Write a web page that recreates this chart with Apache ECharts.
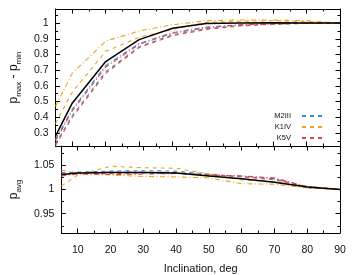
<!DOCTYPE html>
<html><head><meta charset="utf-8">
<script src="https://cdn.jsdelivr.net/npm/echarts@6/dist/echarts.min.js"></script>
<style>html,body{margin:0;padding:0;background:#fff}#c{width:354px;height:275px}</style>
</head><body><div id="c"></div>
<script>
// ---- data ----
var inclination = [5, 10, 20, 30, 40, 50, 60, 70, 80, 90];
var xTickLabels = [10, 20, 30, 40, 50, 60, 70, 80, 90];
var seriesNames = ['M2III', 'K1IV', 'K5V'];

// top panel: p_max - p_min
var topMean      = [0.28, 0.49, 0.755, 0.895, 0.967, 0.998, 1.0, 1.002, 1.0, 1.0];
var topM2IIIdash = [0.23, 0.41, 0.69, 0.85, 0.925, 0.965, 0.985, 0.994, 0.999, 1.0];
var topM2IIIdd   = [0.26, 0.45, 0.73, 0.87, 0.94, 0.975, 0.99, 0.996, 1.0, 1.0];
var topK1IVdash  = [0.36, 0.56, 0.82, 0.91, 0.96, 1.005, 1.012, 1.015, 1.01, 1.0];
var topK1IVdd    = [0.47, 0.68, 0.885, 0.95, 0.99, 1.015, 1.02, 1.02, 1.015, 1.0];
var topK5Vdash   = [0.22, 0.40, 0.68, 0.845, 0.92, 0.96, 0.982, 0.993, 0.998, 1.0];
var topK5Vdd     = [0.25, 0.44, 0.72, 0.865, 0.935, 0.97, 0.988, 0.995, 1.0, 1.0];
var topYTickLabels = [0.3, 0.4, 0.5, 0.6, 0.7, 0.8, 0.9, 1];

// bottom panel: p_avg
var botMean      = [1.031, 1.034, 1.035, 1.035, 1.034, 1.028, 1.022, 1.015, 1.005, 1.0];
var botM2IIIdash = [1.035, 1.036, 1.038, 1.039, 1.038, 1.032, 1.026, 1.02, 1.006, 1.0];
var botM2IIIdd   = [1.03, 1.033, 1.036, 1.036, 1.035, 1.03, 1.028, 1.022, 1.006, 1.0];
var botK1IVdash  = [1.007, 1.03, 1.048, 1.045, 1.044, 1.032, 1.02, 1.016, 1.005, 1.0];
var botK1IVdd    = [1.04, 1.034, 1.03, 1.027, 1.026, 1.024, 1.012, 1.011, 1.003, 1.0];
var botK5Vdash   = [1.032, 1.034, 1.033, 1.034, 1.034, 1.03, 1.027, 1.022, 1.004, 1.0];
var botK5Vdd     = [1.028, 1.032, 1.031, 1.032, 1.033, 1.03, 1.028, 1.024, 1.006, 1.0];
var botYTickLabels = [0.95, 1, 1.05];

// ---- build ----
var FONT = 'Liberation Sans, Arial, sans-serif';
var AX = '#000';
function range(a, b, s) { var r = []; for (var v = a; v <= b + 1e-9; v += s) r.push(Math.round(v * 1000) / 1000); return r; }
var xMajor = xTickLabels.slice();
var xMinor = range(15, 85, 10);

function xAxesFor(g, withLabels) {
  var base = { type: 'value', gridIndex: g, min: 5, max: 90, splitLine: { show: false } };
  function mk(pos, vals, len, line, lab) {
    return Object.assign({}, base, {
      position: pos,
      axisLine: { show: line, onZero: false, lineStyle: { color: AX, width: 1 } },
      axisTick: { show: true, inside: true, length: len, customValues: vals, lineStyle: { color: AX, width: 1 } },
      axisLabel: lab ? { show: true, customValues: xTickLabels, color: '#111', fontSize: 10.5, fontFamily: FONT, margin: 12 } : { show: false }
    });
  }
  var arr = [mk('bottom', xMajor, 4.5, true, withLabels), mk('bottom', xMinor, 2.5, false, false),
             mk('top', xMajor, 4.5, true, false), mk('top', xMinor, 2.5, false, false)];
  if (withLabels) {
    arr[0].name = 'Inclination, deg';
    arr[0].nameLocation = 'middle';
    arr[0].nameGap = 30;
    arr[0].nameTextStyle = { color: '#111', fontSize: 11, fontFamily: FONT };
  }
  return arr;
}
function yAxesFor(g, min, max, major, minor, labels, name, gap) {
  var base = { type: 'value', gridIndex: g, min: min, max: max, splitLine: { show: false } };
  function mk(pos, vals, len, line, lab) {
    return Object.assign({}, base, {
      position: pos,
      axisLine: { show: line, onZero: false, lineStyle: { color: AX, width: 1 } },
      axisTick: { show: true, inside: true, length: len, customValues: vals, lineStyle: { color: AX, width: 1 } },
      axisLabel: lab ? { show: true, customValues: labels, color: '#111', fontSize: 10.5, fontFamily: FONT, margin: 7 } : { show: false }
    });
  }
  var arr = [mk('left', major, 4.5, true, true), mk('left', minor, 2.5, false, false),
             mk('right', major, 4.5, true, false), mk('right', minor, 2.5, false, false)];
  arr[0].name = name;
  arr[0].nameLocation = 'middle';
  arr[0].nameRotate = 90;
  arr[0].nameGap = gap;
  arr[0].nameTextStyle = {
    color: '#111', fontFamily: FONT,
    rich: {
      a: { fontSize: 12, fontFamily: FONT, color: '#111', lineHeight: 18, verticalAlign: 'middle' },
      s: { fontSize: 8, fontFamily: FONT, color: '#111', lineHeight: 18, verticalAlign: 'bottom' }
    }
  };
  return arr;
}

var xAxes = xAxesFor(0, false).concat(xAxesFor(1, true));
var yAxes = yAxesFor(0, 0.217, 1.09, range(0.3, 1.0, 0.1), range(0.25, 1.05, 0.1),
                     topYTickLabels, '{a|p}{s|max}{a| - p}{s|min}', 27)
  .concat(yAxesFor(1, 0.91, 1.09, range(0.95, 1.05, 0.05), range(0.925, 1.075, 0.05),
                   botYTickLabels, '{a|p}{s|avg}', 27));

var COL = { M2III: '#3c8fd6', K1IV: '#eba51e', K5V: '#e8453f' };
var DASH = [4, 4];
var DASHDOT = [5, 2.5, 1, 2.5];
function pts(vals) { return inclination.map(function (x, i) { return [x, vals[i]]; }); }
function ser(name, vals, color, type, panel, width, z) {
  return {
    name: name, type: 'line', xAxisIndex: panel * 4, yAxisIndex: panel * 4,
    data: pts(vals), symbol: 'none', silent: true, animation: false, z: z || 2,
    lineStyle: { color: color, width: width || 1.1, type: type }, itemStyle: { color: color }
  };
}
var series = [
  ser('M2III', topM2IIIdash, COL.M2III, DASH, 0),
  ser('M2III b', topM2IIIdd, COL.M2III, DASHDOT, 0),
  ser('K1IV', topK1IVdash, COL.K1IV, DASH, 0),
  ser('K1IV b', topK1IVdd, COL.K1IV, DASHDOT, 0),
  ser('K5V', topK5Vdash, COL.K5V, DASH, 0),
  ser('K5V b', topK5Vdd, COL.K5V, DASHDOT, 0),
  ser('mean', topMean, '#000', 'solid', 0, 1.5, 5),
  ser('M2III c', botM2IIIdash, COL.M2III, DASH, 1),
  ser('M2III d', botM2IIIdd, COL.M2III, DASHDOT, 1),
  ser('K1IV c', botK1IVdash, COL.K1IV, DASH, 1),
  ser('K1IV d', botK1IVdd, COL.K1IV, DASHDOT, 1),
  ser('K5V c', botK5Vdash, COL.K5V, DASH, 1),
  ser('K5V d', botK5Vdd, COL.K5V, DASHDOT, 1),
  ser('mean2', botMean, '#000', 'solid', 1, 1.5, 5)
];

var chart = echarts.init(document.getElementById('c'), null, { renderer: 'canvas' });
chart.setOption({
  animation: false,
  backgroundColor: '#fff',
  grid: [
    { left: 50, top: 9, width: 290, height: 137, containLabel: false },
    { left: 50, top: 146, width: 290, height: 88, containLabel: false }
  ],
  xAxis: xAxes,
  yAxis: yAxes,
  legend: {
    data: seriesNames, orient: 'vertical', align: 'right', right: 25, top: 107,
    itemWidth: 21, itemHeight: 8, itemGap: 3, selectedMode: false,
    itemStyle: { opacity: 0 },
    textStyle: { fontSize: 7.5, fontFamily: FONT, color: '#111', padding: [0, 6, 0, 0] }
  },
  series: series
});
</script></body></html>
